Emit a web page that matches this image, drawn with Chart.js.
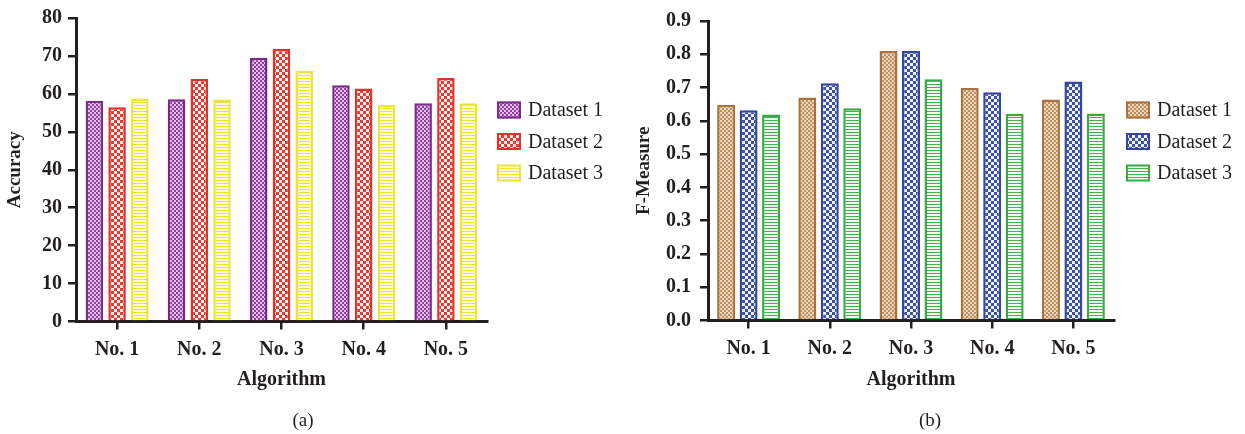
<!DOCTYPE html>
<html>
<head>
<meta charset="utf-8">
<script src="https://cdn.jsdelivr.net/npm/chart.js@4.4.1/dist/chart.umd.min.js"></script>
<style>
  html, body { margin: 0; padding: 0; background: #fff; }
  #wrap { position: relative; width: 1245px; height: 434px; overflow: hidden; }
  #wrap canvas { position: absolute; top: 0; }
  .cap { position: absolute; top: 409px; width: 100px; text-align: center;
         font: 19px "Liberation Serif", "DejaVu Serif", serif; line-height: 22px; color: #231f20; }
</style>
</head>
<body>
<div id="wrap">
  <canvas id="accChart" width="622" height="434" style="left:0"></canvas>
  <canvas id="fmChart" width="623" height="434" style="left:622px"></canvas>
  <div class="cap" style="left:253px">(a)</div>
  <div class="cap" style="left:880px">(b)</div>
</div>
<script>
// Algorithms compared and dataset names
const algorithms = ['No. 1', 'No. 2', 'No. 3', 'No. 4', 'No. 5'];
const datasetNames = ['Dataset 1', 'Dataset 2', 'Dataset 3'];

// (a) Accuracy per algorithm
const accuracyDataset1 = [58.2, 58.6, 69.5, 62.3, 57.5];
const accuracyDataset2 = [56.5, 63.9, 71.8, 61.4, 64.2];
const accuracyDataset3 = [58.8, 58.5, 66.0, 57.1, 57.5];
const accuracyMax = 80;
const accuracyStep = 10;

// (b) F-Measure per algorithm
const fMeasureDataset1 = [0.648, 0.670, 0.810, 0.699, 0.664];
const fMeasureDataset2 = [0.632, 0.713, 0.810, 0.686, 0.718];
const fMeasureDataset3 = [0.619, 0.638, 0.725, 0.621, 0.622];
const fMeasureMax = 0.9;
const fMeasureStep = 0.1;

const INK = '#231f20';
const SERIF = '"Liberation Serif", "DejaVu Serif", serif';

// ---- fill patterns ----
function makeTile(w, h, paint) {
  const c = document.createElement('canvas');
  c.width = w; c.height = h;
  paint(c.getContext('2d'));
  return c;
}
function checker(ctx, cell, fg, bg) {
  const tile = makeTile(cell * 2, cell * 2, t => {
    t.fillStyle = bg; t.fillRect(0, 0, cell * 2, cell * 2);
    t.fillStyle = fg; t.fillRect(0, 0, cell, cell); t.fillRect(cell, cell, cell, cell);
  });
  return ctx.createPattern(tile, 'repeat');
}
function hStripes(ctx, period, line, fg, bg) {
  const tile = makeTile(4, period, t => {
    t.fillStyle = bg; t.fillRect(0, 0, 4, period);
    t.fillStyle = fg; t.fillRect(0, 0, 4, line);
  });
  return ctx.createPattern(tile, 'repeat');
}

// ---- legend drawn to the right of the plot ----
const sideLegend = {
  id: 'sideLegend',
  afterDraw(chart, args, opts) {
    const ctx = chart.ctx;
    ctx.save();
    chart.data.datasets.forEach((ds, i) => {
      const x = chart.chartArea.right + opts.offset;
      const y = opts.top + i * opts.gap;
      ctx.fillStyle = ds.backgroundColor;
      ctx.fillRect(x, y - 8.5, 24, 17);
      ctx.strokeStyle = ds.borderColor;
      ctx.lineWidth = 2;
      ctx.strokeRect(x + 1, y - 7.5, 22, 15);
      ctx.fillStyle = INK;
      ctx.font = '20px ' + SERIF;
      ctx.textBaseline = 'middle';
      ctx.textAlign = 'left';
      ctx.fillText(ds.label, x + 31, y + 1);
    });
    ctx.restore();
  }
};

function buildChart(canvasId, cfg) {
  const ctx = document.getElementById(canvasId).getContext('2d');
  const styles = cfg.styles(ctx);
  const datasets = cfg.series.map((vals, i) => ({
    label: datasetNames[i],
    data: vals,
    backgroundColor: styles[i].fill,
    borderColor: styles[i].border,
    borderWidth: 2.5,
    categoryPercentage: 0.83,
    barPercentage: cfg.barPct
  }));
  return new Chart(ctx, {
    type: 'bar',
    data: { labels: algorithms, datasets },
    plugins: [sideLegend],
    options: {
      responsive: false,
      animation: false,
      layout: { padding: { top: cfg.padTop, right: cfg.padRight, bottom: 28, left: 0 } },
      plugins: {
        legend: { display: false },
        tooltip: { enabled: false },
        sideLegend: { offset: cfg.legendOffset, top: 110, gap: 31.5 }
      },
      scales: {
        x: {
          grid: { display: true, drawOnChartArea: false, drawTicks: true, tickLength: 8,
                  offset: false, color: INK, lineWidth: 2.5 },
          border: { display: true, color: INK, width: 3 },
          ticks: { color: INK, padding: 8, font: { family: SERIF, size: 20, weight: 'bold' } },
          title: { display: true, text: 'Algorithm', color: INK,
                   font: { family: SERIF, size: 20, weight: 'bold' },
                   padding: { top: 0, bottom: 14.5 } },
          afterFit(s) { s.height = cfg.xHeight; }
        },
        y: {
          min: 0,
          max: cfg.max,
          grid: { drawOnChartArea: false, drawTicks: true, tickLength: 8, color: INK, lineWidth: 2.5 },
          border: { display: true, color: INK, width: 3 },
          ticks: { stepSize: cfg.step, color: INK, padding: cfg.tickPad,
                   font: { family: SERIF, size: 20, weight: 'bold' },
                   callback: cfg.fmt },
          title: { display: true, text: cfg.yTitle, color: INK,
                   font: { family: SERIF, size: 19, weight: 'bold' },
                   padding: { top: cfg.yTitlePad, bottom: 0 } },
          afterFit(s) { s.width = cfg.yWidth; }
        }
      }
    }
  });
}

buildChart('accChart', {
  series: [accuracyDataset1, accuracyDataset2, accuracyDataset3],
  styles: ctx => [
    { fill: checker(ctx, 2, '#8f3f9f', '#e4c3ea'), border: '#7a2a8b' },
    { fill: checker(ctx, 3, '#e63a33', '#fff3ef'), border: '#e3302b' },
    { fill: hStripes(ctx, 3, 1, '#eee52a', '#fffbdc'), border: '#ece33c' }
  ],
  barPct: 0.77,
  max: accuracyMax, step: accuracyStep,
  fmt: v => String(v),
  yTitle: 'Accuracy',
  padTop: 17, padRight: 135, xHeight: 84.5,
  yWidth: 76, tickPad: 6, yTitlePad: 4,
  legendOffset: 10
});

buildChart('fmChart', {
  series: [fMeasureDataset1, fMeasureDataset2, fMeasureDataset3],
  styles: ctx => [
    { fill: checker(ctx, 2, '#c0915f', '#ecd6bf'), border: '#a8733f' },
    { fill: checker(ctx, 3, '#3b50ad', '#f2f4ff'), border: '#3346a0' },
    { fill: hStripes(ctx, 3, 1, '#46ad53', '#f1faf1'), border: '#3ba84a' }
  ],
  barPct: 0.8,
  max: fMeasureMax, step: fMeasureStep,
  fmt: v => Number(v).toFixed(1),
  yTitle: 'F-Measure',
  padTop: 19, padRight: 131, xHeight: 85.5,
  yWidth: 86, tickPad: 9, yTitlePad: 11,
  legendOffset: 12
});
</script>
</body>
</html>
